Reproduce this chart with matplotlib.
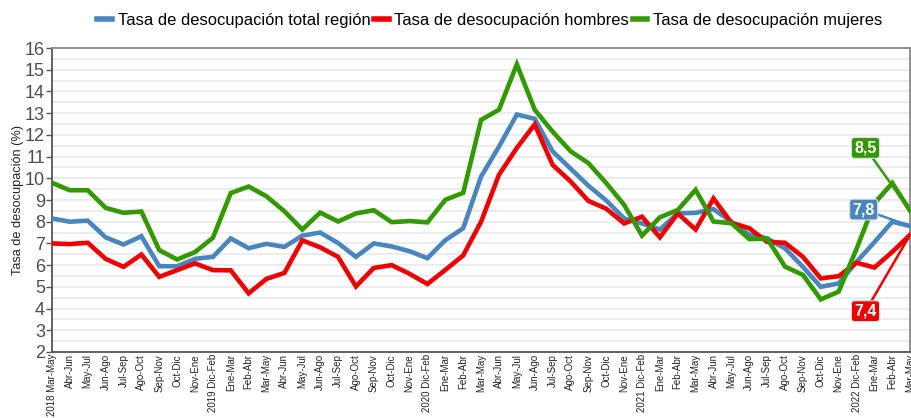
import matplotlib
matplotlib.use("Agg")
import matplotlib.pyplot as plt
from matplotlib.ticker import MultipleLocator
import numpy as np

plt.rcParams['font.family'] = ['Liberation Sans', 'DejaVu Sans']

periods = ["2018 Mar-May", "Abr-Jun", "May-Jul", "Jun-Ago", "Jul-Sep", "Ago-Oct", "Sep-Nov", "Oct-Dic", "Nov-Ene",
           "2019 Dic-Feb", "Ene-Mar", "Feb-Abr", "Mar-May", "Abr-Jun", "May-Jul", "Jun-Ago", "Jul-Sep", "Ago-Oct",
           "Sep-Nov", "Oct-Dic", "Nov-Ene",
           "2020 Dic-Feb", "Ene-Mar", "Feb-Abr", "Mar-May", "Abr-Jun", "May-Jul", "Jun-Ago", "Jul-Sep", "Ago-Oct",
           "Sep-Nov", "Oct-Dic", "Nov-Ene",
           "2021 Dic-Feb", "Ene-Mar", "Feb-Abr", "Mar-May", "Abr-Jun", "May-Jul", "Jun-Ago", "Jul-Sep", "Ago-Oct",
           "Sep-Nov", "Oct-Dic", "Nov-Ene",
           "2022 Dic-Feb", "Ene-Mar", "Feb-Abr", "Mar-May"]

total = [8.15, 8.0, 8.05, 7.28, 6.95, 7.33, 5.95, 5.95, 6.29,
         6.38, 7.23, 6.78, 6.98, 6.84, 7.36, 7.5, 7.02, 6.38, 7.0, 6.86, 6.64,
         6.32, 7.15, 7.7, 10.08, 11.46, 12.94, 12.74, 11.24, 10.45, 9.66, 8.98, 8.15,
         7.92, 7.64, 8.38, 8.41, 8.58, 8.0, 7.4, 7.23, 6.77, 5.92, 5.0, 5.16,
         6.15, 7.06, 8.0, 7.8]

hombres = [7.0, 6.97, 7.03, 6.29, 5.92, 6.49, 5.46, 5.77, 6.08,
           5.77, 5.76, 4.7, 5.37, 5.64, 7.14, 6.82, 6.38, 5.02, 5.87, 6.0, 5.6,
           5.13, 5.78, 6.45, 8.0, 10.16, 11.4, 12.48, 10.62, 9.86, 8.96, 8.6, 7.92,
           8.23, 7.28, 8.38, 7.64, 9.07, 7.95, 7.7, 7.07, 7.03, 6.38, 5.39, 5.49,
           6.11, 5.89, 6.61, 7.4]

mujeres = [9.79, 9.45, 9.45, 8.64, 8.41, 8.47, 6.69, 6.26, 6.6,
           7.26, 9.32, 9.62, 9.17, 8.48, 7.64, 8.42, 8.01, 8.38, 8.53, 7.98, 8.03,
           7.97, 9.01, 9.33, 12.69, 13.16, 15.25, 13.16, 12.15, 11.25, 10.7, 9.78, 8.78,
           7.36, 8.2, 8.54, 9.47, 8.01, 7.93, 7.2, 7.22, 5.93, 5.55, 4.42, 4.78,
           6.75, 8.85, 9.78, 8.5]

series_names = ["Tasa de desocupación total región", "Tasa de desocupación hombres", "Tasa de desocupación mujeres"]
colors = ["#4A86BE", "#EE0000", "#339900"]
last_labels = ["7,8", "7,4", "8,5"]

fig = plt.figure(figsize=(9.12, 4.18), dpi=100)
ax = fig.add_axes([0.057, 0.158, 0.941, 0.727])

x = np.arange(len(periods))
handles = []
for vals, name, c in zip([total, hombres, mujeres], series_names, colors):
    h, = ax.plot(x, vals, color=c, lw=3.3, solid_joinstyle='miter', zorder=3)
    handles.append(h)

ax.set_xlim(0, len(periods) - 1)
ax.set_ylim(2, 16)
ax.yaxis.set_major_locator(MultipleLocator(1))
ax.yaxis.set_minor_locator(MultipleLocator(0.5))
ax.grid(axis='y', which='both', color='#EBEBEB', lw=1.3, zorder=0)
ax.set_axisbelow(True)

ax.set_xticks(x)
ax.set_xticklabels(periods, rotation=90, fontsize=7.0, color='#222222')
ax.tick_params(axis='x', length=0, pad=1.5)
ax.tick_params(axis='y', which='major', length=4, width=1, color='#555555', labelsize=13, labelcolor='#4D4D4D', pad=1)
ax.tick_params(axis='y', which='minor', length=0)
ax.set_ylabel("Tasa de desocupación (%)", fontsize=9.2, color='#222222', labelpad=1)

for side in ['left', 'bottom']:
    ax.spines[side].set_color('#555555')
    ax.spines[side].set_linewidth(1.3)
for side in ['top', 'right']:
    ax.spines[side].set_color('#888888')
    ax.spines[side].set_linewidth(1.3)

# labels for last values
label_pos = [(45.4, 8.56), (45.5, 3.88), (45.5, 11.4)]
for vals, c, txt, (lx, ly) in zip([total, hombres, mujeres], colors, last_labels, label_pos):
    ax.annotate(txt, xy=(x[-1], vals[-1]), xytext=(lx, ly), ha='center', va='center',
                fontsize=11.5, fontweight='bold', color='white',
                bbox=dict(boxstyle='round,pad=0.18,rounding_size=0.2', fc=c, ec='#DDDDDD', lw=0.8),
                arrowprops=dict(arrowstyle='-', color=c, lw=1.8, shrinkA=0, shrinkB=0),
                zorder=5)

leg = fig.legend(handles, series_names, loc='center', bbox_to_anchor=(0.537, 0.952), ncol=3,
                 frameon=False, fontsize=11.9, handlelength=0.9, handletextpad=0.35,
                 columnspacing=0.2, borderaxespad=0)
for lh in leg.get_lines():
    lh.set_linewidth(4)

fig.savefig("out.png", dpi=100)
